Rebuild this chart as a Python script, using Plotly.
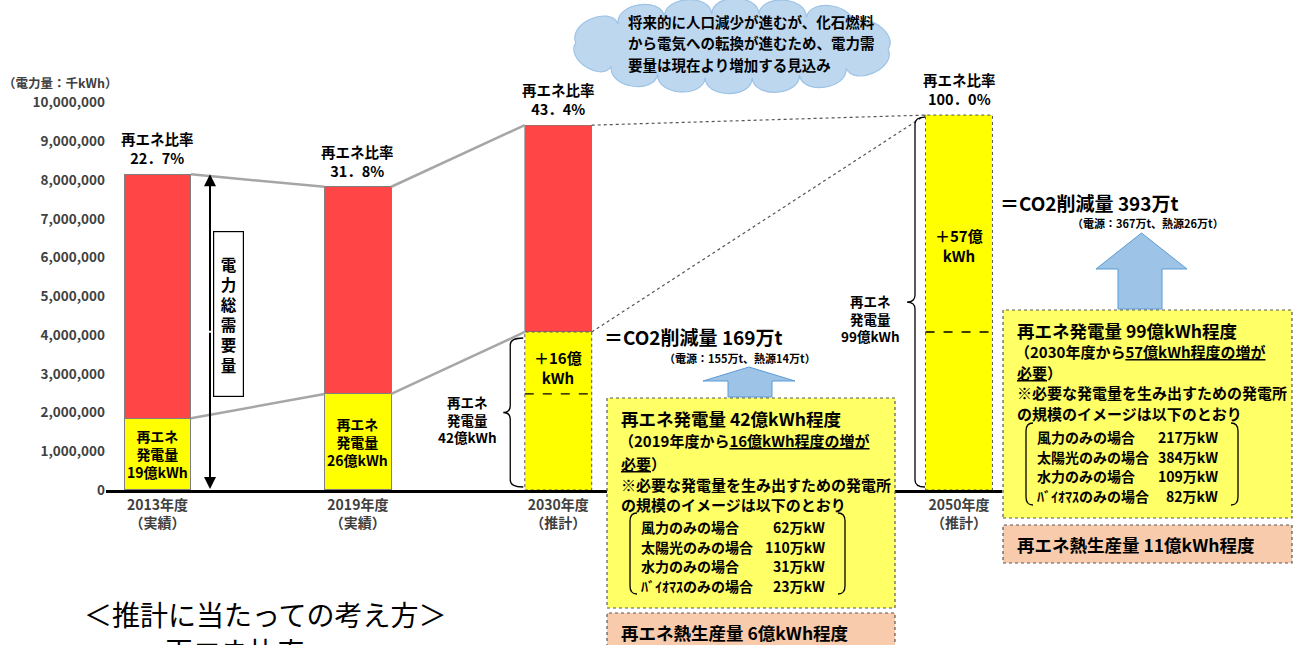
import math
import plotly.graph_objects as go

# ---------------- data ----------------
categories = ["2013年度", "2019年度", "2030年度", "2050年度"]
status = ["（実績）", "（実績）", "（推計）", "（推計）"]
total_demand = [8150000, 7830000, 9420000, 9680000]      # 千kWh
renewable = [1850000, 2480000, 4080000, 9680000]         # 千kWh
renew_ratio = [22.7, 31.8, 43.4, 100.0]                  # %
renew_oku = [19, 26, 42, 99]                              # 億kWh
increase_oku = [None, None, 16, 57]                       # 億kWh
co2_total = [None, None, 169, 393]                        # 万t
co2_power = [None, None, 155, 367]
co2_heat = [None, None, 14, 26]
heat_oku = [None, None, 6, 11]
plant_types = ["風力のみの場合", "太陽光のみの場合", "水力のみの場合", "ﾊﾞｲｵﾏｽのみの場合"]
capacity_2030 = [62, 110, 31, 23]     # 万kW
capacity_2050 = [217, 384, 109, 82]   # 万kW
y_ticks = [i * 1000000 for i in range(11)]

# ---------------- geometry helpers ----------------
W, H = 1300, 645
FONT = "Noto Sans CJK JP"
slot_order = ["2013年度", "2019年度", "2030年度", "gap", "2050年度"]
XD = (106, 1002)
XR = (-0.257, 4.2146)
Y0, Y10 = 490.0, 102.7
BW = 0.334


def idx(cat):
    return slot_order.index(cat)


def px_x(v):
    return XD[0] + (v - XR[0]) * (XD[1] - XD[0]) / (XR[1] - XR[0])


def px_y(v):
    return Y0 - v / 1e7 * (Y0 - Y10)


def X(p):
    return p / W


def Y(p):
    return 1 - p / H


anns = []
shapes = []


def T(x, y, text, size=14, anchor="left", color="#000000", weight="bold", **kw):
    d = dict(x=X(x), y=Y(y), xref="paper", yref="paper", text=text, showarrow=False,
             xanchor=anchor, yanchor="middle",
             font=dict(size=size, color=color, weight=weight, family=FONT))
    d.update(kw)
    anns.append(d)


def P(x, y):
    return f"{X(x):.5f},{Y(y):.5f}"


# ---------------- traces ----------------
fig = go.Figure()
fig.add_trace(go.Bar(
    x=categories, y=renewable, width=[BW] * 4,
    marker=dict(color="#FFFF00", line=dict(color="#7F7F7F", width=[1, 1, 0, 0])),
    hoverinfo="skip"))
fig.add_trace(go.Bar(
    x=categories, y=[t - r for t, r in zip(total_demand, renewable)], width=[BW] * 4,
    marker=dict(color="#FF4545", line=dict(color="#7F7F7F", width=[1, 1, 0.6, 0])),
    hoverinfo="skip"))

# ---------------- connectors between bars ----------------
for a, b in [(0, 1), (1, 2)]:
    ia, ib = idx(categories[a]), idx(categories[b])
    for vals in (total_demand, renewable):
        shapes.append(dict(type="line", xref="x", yref="y",
                           x0=ia + BW / 2, y0=vals[a], x1=ib - BW / 2, y1=vals[b],
                           line=dict(color="#A6A6A6", width=2.5)))
i2, i3 = idx(categories[2]), idx(categories[3])
shapes.append(dict(type="line", xref="x", yref="y", x0=i2 + BW / 2, y0=total_demand[2],
                   x1=i3 - BW / 2, y1=total_demand[3], line=dict(color="#555555", width=1.2, dash="dot")))
shapes.append(dict(type="line", xref="x", yref="y", x0=i2 + BW / 2, y0=renewable[2],
                   x1=i3 - BW / 2, y1=total_demand[3], line=dict(color="#555555", width=1.2, dash="dot")))

# dotted outline of estimated renewable bars + dashed previous level
for k in (2, 3):
    i = idx(categories[k])
    shapes.append(dict(type="rect", xref="x", yref="y", x0=i - BW / 2, x1=i + BW / 2,
                       y0=0, y1=renewable[k], line=dict(color="#555555", width=1, dash="dot")))
    shapes.append(dict(type="line", xref="x", yref="y", x0=i - BW / 2, x1=i + BW / 2,
                       y0=renewable[k - 1], y1=renewable[k - 1],
                       line=dict(color="#000000", width=1.3, dash="dash")))

# ---------------- bar annotations ----------------
for k, cat in enumerate(categories):
    pct = f"{renew_ratio[k]:.1f}".replace(".", "．") + "%"
    anns.append(dict(x=cat, y=total_demand[k], xref="x", yref="y", text=f"再エネ比率<br>{pct}",
                     showarrow=False, yanchor="bottom", yshift=4,
                     font=dict(size=14.5, color="#000000", weight="bold", family=FONT)))
for k in (0, 1):
    anns.append(dict(x=categories[k], y=renewable[k] / 2, xref="x", yref="y",
                     text=f"再エネ<br>発電量<br>{renew_oku[k]}億kWh", showarrow=False,
                     font=dict(size=14, color="#000000", weight="bold", family=FONT)))
# increases
T(px_x(idx(categories[2])), 367, f"＋{increase_oku[2]}億<br>kWh", size=15, anchor="center")
T(px_x(idx(categories[3])), 245, f"＋{increase_oku[3]}億<br>kWh", size=15, anchor="center")


# braces
def brace(xr, xm, xt, yt, yb, r=7):
    ym = (yt + yb) / 2
    return (f"M {P(xr, yt)} Q {P(xm, yt)} {P(xm, yt + r)} L {P(xm, ym - r)} "
            f"Q {P(xm, ym)} {P(xt, ym)} Q {P(xm, ym)} {P(xm, ym + r)} "
            f"L {P(xm, yb - r)} Q {P(xm, yb)} {P(xr, yb)}")


b2 = px_x(idx(categories[2])) - 33
shapes.append(dict(type="path", xref="paper", yref="paper",
                   path=brace(b2 - 2, b2 - 15, b2 - 22, px_y(renewable[2]) + 6, 487),
                   line=dict(color="#000000", width=1.3)))
T(b2 - 58, 419, f"再エネ<br>発電量<br>{renew_oku[2]}億kWh", size=13.5, anchor="center")
b3 = px_x(idx(categories[3])) - 33
shapes.append(dict(type="path", xref="paper", yref="paper",
                   path=brace(b3 - 1, b3 - 11, b3 - 19, px_y(renewable[3]) + 2, 487),
                   line=dict(color="#000000", width=1.3)))
T(b3 - 55, 318, f"再エネ<br>発電量<br>{renew_oku[3]}億kWh", size=13.5, anchor="center")

# double arrow for total demand (2013)
ax_x = px_x(idx(categories[0])) + 52.5
half = (px_y(0) - px_y(total_demand[0])) / 2
anns.append(dict(x=X(ax_x), y=Y(px_y(total_demand[0])), xref="paper", yref="paper", text="",
                 showarrow=True, axref="pixel", ayref="pixel", ax=0, ay=half,
                 arrowhead=2, arrowsize=1.2, arrowwidth=2, arrowcolor="#000000"))
anns.append(dict(x=X(ax_x), y=Y(px_y(0) - 1), xref="paper", yref="paper", text="",
                 showarrow=True, axref="pixel", ayref="pixel", ax=0, ay=-half,
                 arrowhead=2, arrowsize=1.2, arrowwidth=2, arrowcolor="#000000"))
anns.append(dict(x=X(ax_x + 3), y=Y(314), xref="paper", yref="paper",
                 text="電<br>力<br>総<br>需<br>要<br>量", showarrow=False,
                 width=27, height=162, bgcolor="#FFFFFF", bordercolor="#000000", borderwidth=1.2,
                 font=dict(size=15.5, color="#000000", weight="bold", family=FONT)))

# y-axis unit
T(1, 82, "（電力量：千kWh）", size=12.5, color="#404040")


# ---------------- cloud ----------------
def cloud_path(cx, cy, rx, ry, n=14, bulge=0.45):
    # equal arc-length points on an ellipse
    m = 2000
    samp = [(cx + rx * math.cos(2 * math.pi * t / m + 0.1), cy + ry * math.sin(2 * math.pi * t / m + 0.1))
            for t in range(m + 1)]
    acc = [0.0]
    for a, b in zip(samp[:-1], samp[1:]):
        acc.append(acc[-1] + math.hypot(b[0] - a[0], b[1] - a[1]))
    total = acc[-1]
    pts = []
    j = 0
    for k in range(n):
        target = total * k / n
        while acc[j] < target:
            j += 1
        pts.append(samp[j])
    d = f"M {P(*pts[0])}"
    for k in range(n):
        x0, y0 = pts[k]
        x1, y1 = pts[(k + 1) % n]
        mx, my = (x0 + x1) / 2, (y0 + y1) / 2
        nx, ny = (mx - cx) / rx ** 2, (my - cy) / ry ** 2
        L = math.hypot(nx, ny)
        nx, ny = nx / L, ny / L
        seg = math.hypot(x1 - x0, y1 - y0)
        c1 = (x0 + nx * seg * bulge, y0 + ny * seg * bulge)
        c2 = (x1 + nx * seg * bulge, y1 + ny * seg * bulge)
        d += f" C {P(*c1)} {P(*c2)} {P(x1, y1)}"
    return d + " Z"


shapes.append(dict(type="path", xref="paper", yref="paper", path=cloud_path(732, 46, 157, 32),
                   fillcolor="#BDD7EE", line=dict(color="#9DC3E6", width=1.2)))
T(626, 22, "将来的に人口減少が進むが、化石燃料", size=14.5)
T(626, 43, "から電気への転換が進むため、電力需", size=14.5)
T(626, 64, "要量は現在より増加する見込み", size=14.5)


# ---------------- info boxes ----------------
def up_arrow(xl, xr, xsl, xsr, yt, yb_head, ybot):
    xm = (xl + xr) / 2
    return (f"M {P(xsl, ybot)} L {P(xsl, yb_head)} L {P(xl, yb_head)} L {P(xm, yt)} "
            f"L {P(xr, yb_head)} L {P(xsr, yb_head)} L {P(xsr, ybot)} Z")


def paren(xl, yt, yb, left=True, r=8):
    s = 1 if left else -1
    return (f"M {P(xl + s * 7, yt)} Q {P(xl, yt)} {P(xl, yt + r)} L {P(xl, yb - r)} "
            f"Q {P(xl, yb)} {P(xl + s * 7, yb)}")


def info_block(k, bx0, bx1, by0, by1, py0, py1, arrow, co2_y, sub_x, list_ys, rows, right_x, paren_y):
    T(bx0 - 5, co2_y, f"＝CO2削減量 {co2_total[k]}万t", size=19)
    T(sub_x, co2_y + 21, f"（電源：{co2_power[k]}万t、熱源{co2_heat[k]}万t）", size=11, anchor="center")
    shapes.append(dict(type="path", xref="paper", yref="paper", path=up_arrow(*arrow),
                       fillcolor="#9DC3E6", line=dict(color="#5B9BD5", width=1)))
    shapes.append(dict(type="rect", xref="paper", yref="paper", x0=X(bx0), x1=X(bx1),
                       y0=Y(by1), y1=Y(by0), fillcolor="#FFFF66",
                       line=dict(color="#595959", width=1.2, dash="dot")))
    shapes.append(dict(type="rect", xref="paper", yref="paper", x0=X(bx0), x1=X(bx1),
                       y0=Y(py1), y1=Y(py0), fillcolor="#F8CBAD",
                       line=dict(color="#595959", width=1.2, dash="dot")))
    tx = bx0 + 12
    prev = categories[k - 1].replace("年度", "")
    inc = increase_oku[k]
    ys = list_ys
    T(tx, ys[0], f"再エネ発電量 {renew_oku[k]}億kWh程度", size=17.5)
    T(tx - 2, ys[1], f"（{prev}年度から<u>{inc}億kWh程度の増が</u>", size=15)
    T(tx, ys[2], "<u>必要</u>）", size=15)
    T(tx, ys[3], "※必要な発電量を生み出すための発電所", size=15)
    T(tx, ys[4], "の規模のイメージは以下のとおり", size=15)
    for j, (name, cap) in enumerate(zip(plant_types, rows)):
        yy = ys[5] + j * 19.5
        T(tx + 20, yy, name, size=14)
        T(right_x, yy, f"{cap}万kW", size=14, anchor="right")
    shapes.append(dict(type="path", xref="paper", yref="paper",
                       path=paren(tx + 11, paren_y[0], paren_y[1], True),
                       line=dict(color="#000000", width=1.3)))
    shapes.append(dict(type="path", xref="paper", yref="paper",
                       path=paren(right_x + 18, paren_y[0], paren_y[1], False),
                       line=dict(color="#000000", width=1.3)))
    T(tx, (py0 + py1) / 2 if py1 < H else py0 + 19, f"再エネ熱生産量 {heat_oku[k]}億kWh程度", size=17.5)


info_block(2, 607, 895, 398, 608, 613, 660,
           (703, 795, 728, 772, 367, 381, 397), 337, 740,
           [418, 441, 463, 484, 504, 527], capacity_2030, 827, (513, 594))
info_block(3, 1003, 1292, 310, 518, 525, 563,
           (1096, 1187, 1118, 1162, 233, 269, 309), 202, 1148,
           [330, 351, 372, 393, 413, 437], capacity_2050, 1220, (423, 505))

# bottom notes
T(82, 614, "＜推計に当たっての考え方＞", size=28, weight="normal")
T(163, 651, "再エネ比率", size=28, weight="normal")

# ---------------- layout ----------------
fig.update_layout(
    width=W, height=H, margin=dict(l=0, r=0, t=0, b=0, autoexpand=False),
    paper_bgcolor="#FFFFFF", plot_bgcolor="rgba(0,0,0,0)",
    barmode="stack", showlegend=False, font=dict(family=FONT),
    shapes=shapes, annotations=anns,
    xaxis=dict(domain=[XD[0] / W, XD[1] / W], type="category", categoryorder="array",
               categoryarray=slot_order, range=list(XR), showline=True, linecolor="#000000",
               linewidth=3, ticks="", tickvals=categories, automargin=False,
               ticktext=[f"{c}<br>{s}" for c, s in zip(categories, status)],
               tickfont=dict(size=14, color="#404040", weight="bold", family=FONT),
               showgrid=False, zeroline=False, fixedrange=True),
    yaxis=dict(domain=[1 - Y0 / H, 1 - Y10 / H], range=[0, 1e7], tickvals=y_ticks,
               tickformat=",", showgrid=False, zeroline=False, showline=False, ticks="",
               automargin=False,
               tickfont=dict(size=13.5, color="#404040", weight="bold", family=FONT),
               fixedrange=True),
)

fig.write_html("out.html")
